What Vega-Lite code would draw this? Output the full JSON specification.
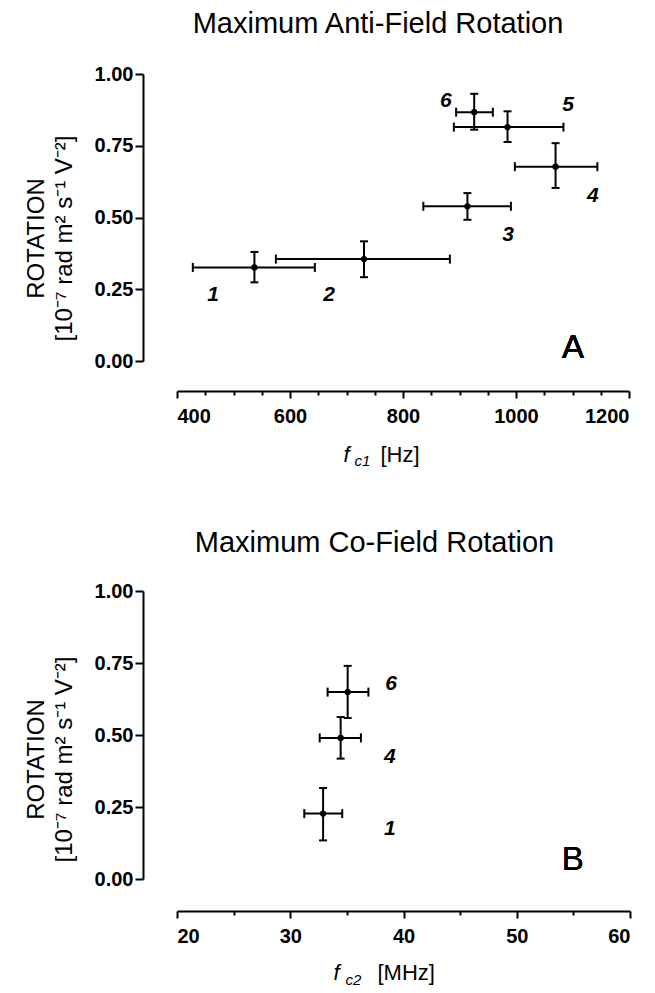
{
  "$schema": "https://vega.github.io/schema/vega-lite/v6.json",
  "padding": {"left": 24, "top": 10, "right": 5, "bottom": 5},
  "config": {
    "view": {"stroke": null},
    "font": "Liberation Sans",
    "axis": {
      "domainColor": "black", "tickColor": "black", "labelColor": "black", "titleColor": "black",
      "domainWidth": 2, "tickWidth": 2, "grid": false,
      "labelFont": "Liberation Sans", "labelFontSize": 20, "labelFontWeight": "bold",
      "titleFont": "Liberation Sans", "titleFontSize": 22, "titleFontWeight": "normal"
    },
    "title": {"font": "Liberation Sans", "fontSize": 29, "fontWeight": "normal", "color": "black"}
  },
  "datasets": {
    "a": [
      {"id": "1", "x": 537, "xlo": 428, "xhi": 644, "y": 0.326, "ylo": 0.274, "yhi": 0.38, "lx": 464, "ly": 0.231},
      {"id": "2", "x": 731, "xlo": 575, "xhi": 883, "y": 0.355, "ylo": 0.292, "yhi": 0.417, "lx": 669, "ly": 0.231},
      {"id": "3", "x": 914, "xlo": 836, "xhi": 991, "y": 0.539, "ylo": 0.492, "yhi": 0.585, "lx": 986, "ly": 0.44},
      {"id": "4", "x": 1070, "xlo": 998, "xhi": 1144, "y": 0.677, "ylo": 0.603, "yhi": 0.759, "lx": 1136, "ly": 0.575},
      {"id": "5", "x": 985, "xlo": 890, "xhi": 1084, "y": 0.815, "ylo": 0.763, "yhi": 0.87, "lx": 1092, "ly": 0.892},
      {"id": "6", "x": 926, "xlo": 894, "xhi": 959, "y": 0.867, "ylo": 0.806, "yhi": 0.931, "lx": 876, "ly": 0.905}
    ],
    "b": [
      {"id": "1", "x": 32.9, "xlo": 31.24, "xhi": 34.59, "y": 0.227, "ylo": 0.134, "yhi": 0.316, "lx": 38.8, "ly": 0.175},
      {"id": "4", "x": 34.45, "xlo": 32.6, "xhi": 36.24, "y": 0.49, "ylo": 0.418, "yhi": 0.5625, "lx": 38.8, "ly": 0.424},
      {"id": "6", "x": 35.07, "xlo": 33.3, "xhi": 36.9, "y": 0.649, "ylo": 0.559, "yhi": 0.74, "lx": 38.9, "ly": 0.678}
    ]
  },
  "spacing": 61,
  "vconcat": [
    {
      "title": {"text": "Maximum Anti-Field Rotation", "anchor": "middle", "offset": 25, "dx": -25},
      "width": 452, "height": 287,
      "data": {"name": "a"},
      "resolve": {"axis": {"x": "independent"}},
      "layer": [
        {
          "mark": {"type": "rule", "strokeWidth": 2, "color": "black"},
          "encoding": {
            "x": {"field": "xlo", "type": "quantitative", "scale": {"domain": [400, 1200], "nice": false, "zero": false},
              "axis": {"orient": "bottom", "offset": 30, "values": [400,450,500,550,600,650,700,750,800,850,900,950,1000,1050,1100,1150,1200],
                "labelExpr": "datum.value % 200 === 0 ? datum.label : ''", "format": "d",
                "tickSize": {"condition": {"test": "datum.value % 200 === 0", "value": 7}, "value": 4},
                "labelPadding": 8, "title": null}},
            "x2": {"field": "xhi"},
            "y": {"field": "y", "type": "quantitative", "scale": {"domain": [0, 1], "nice": false},
              "axis": {"offset": 34, "values": [0, 0.25, 0.5, 0.75, 1], "format": ".2f", "tickSize": 8, "labelPadding": 2,
                "title": ["ROTATION", "[10⁻⁷ rad m² s⁻¹ V⁻²]"], "titleFontSize": 24, "titleLineHeight": 28, "titlePadding": 18, "titleY": 164}}
          }
        },
        {
          "mark": {"type": "rule", "strokeWidth": 2, "color": "black"},
          "encoding": {
            "x": {"field": "x", "type": "quantitative", "scale": {"domain": [400, 1200], "nice": false, "zero": false},
              "axis": {"orient": "bottom", "offset": 30, "domain": false, "ticks": false, "labels": false,
                "title": "f", "titleFontStyle": "italic", "titleX": 166, "titleY": 70, "titleAlign": "left", "titleBaseline": "alphabetic"}},
            "y": {"field": "ylo", "type": "quantitative", "scale": {"domain": [0, 1], "nice": false}},
            "y2": {"field": "yhi"}
          }
        },
        {
          "mark": {"type": "point", "filled": true, "size": 40, "color": "black", "opacity": 1},
          "encoding": {
            "x": {"field": "x", "type": "quantitative", "scale": {"domain": [400, 1200], "nice": false, "zero": false},
              "axis": {"orient": "bottom", "offset": 30, "domain": false, "ticks": false, "labels": false,
                "title": "c1", "titleFontStyle": "italic", "titleFontSize": 15, "titleX": 177, "titleY": 74, "titleAlign": "left", "titleBaseline": "alphabetic"}},
            "y": {"field": "y", "type": "quantitative", "scale": {"domain": [0, 1], "nice": false}}
          }
        },
        {
          "mark": {"type": "text", "fontSize": 21, "fontStyle": "italic", "fontWeight": "bold", "color": "black"},
          "encoding": {
            "x": {"field": "lx", "type": "quantitative", "scale": {"domain": [400, 1200], "nice": false, "zero": false},
              "axis": {"orient": "bottom", "offset": 30, "domain": false, "ticks": false, "labels": false,
                "title": "[Hz]", "titleX": 203, "titleY": 70, "titleAlign": "left", "titleBaseline": "alphabetic"}},
            "y": {"field": "ly", "type": "quantitative", "scale": {"domain": [0, 1], "nice": false}},
            "text": {"field": "id"}
          }
        },
        {
          "mark": {"type": "tick", "orient": "vertical", "size": 9, "thickness": 2, "color": "black", "opacity": 1},
          "encoding": {
            "x": {"field": "xlo", "type": "quantitative", "scale": {"domain": [400, 1200], "nice": false, "zero": false}, "axis": null},
            "y": {"field": "y", "type": "quantitative", "scale": {"domain": [0, 1], "nice": false}}
          }
        },
        {
          "mark": {"type": "tick", "orient": "vertical", "size": 9, "thickness": 2, "color": "black", "opacity": 1},
          "encoding": {
            "x": {"field": "xhi", "type": "quantitative", "scale": {"domain": [400, 1200], "nice": false, "zero": false}, "axis": null},
            "y": {"field": "y", "type": "quantitative", "scale": {"domain": [0, 1], "nice": false}}
          }
        },
        {
          "mark": {"type": "tick", "orient": "horizontal", "size": 8, "thickness": 2, "color": "black", "opacity": 1},
          "encoding": {
            "x": {"field": "x", "type": "quantitative", "scale": {"domain": [400, 1200], "nice": false, "zero": false}, "axis": null},
            "y": {"field": "ylo", "type": "quantitative", "scale": {"domain": [0, 1], "nice": false}}
          }
        },
        {
          "mark": {"type": "tick", "orient": "horizontal", "size": 8, "thickness": 2, "color": "black", "opacity": 1},
          "encoding": {
            "x": {"field": "x", "type": "quantitative", "scale": {"domain": [400, 1200], "nice": false, "zero": false}, "axis": null},
            "y": {"field": "yhi", "type": "quantitative", "scale": {"domain": [0, 1], "nice": false}}
          }
        },
        {
          "mark": {"type": "text", "fontSize": 33, "color": "black"},
          "encoding": {
            "x": {"datum": 1101, "type": "quantitative", "scale": {"domain": [400, 1200], "nice": false, "zero": false}, "axis": null},
            "y": {"datum": 0.045, "type": "quantitative", "scale": {"domain": [0, 1], "nice": false}},
            "text": {"value": "A"}
          }
        }
      ]
    },
    {
      "title": {"text": "Maximum Co-Field Rotation", "anchor": "middle", "offset": 23, "dx": -29},
      "width": 453, "height": 288,
      "data": {"name": "b"},
      "resolve": {"axis": {"x": "independent"}},
      "layer": [
        {
          "mark": {"type": "rule", "strokeWidth": 2, "color": "black"},
          "encoding": {
            "x": {"field": "xlo", "type": "quantitative", "scale": {"domain": [20, 60], "nice": false, "zero": false},
              "axis": {"orient": "bottom", "offset": 32, "values": [20,25,30,35,40,45,50,55,60],
                "labelExpr": "datum.value % 10 === 0 ? datum.label : ''", "format": "d",
                "tickSize": {"condition": {"test": "datum.value % 10 === 0", "value": 7}, "value": 4},
                "labelPadding": 8, "title": null}},
            "x2": {"field": "xhi"},
            "y": {"field": "y", "type": "quantitative", "scale": {"domain": [0, 1], "nice": false},
              "axis": {"offset": 34, "values": [0, 0.25, 0.5, 0.75, 1], "format": ".2f", "tickSize": 8, "labelPadding": 2,
                "title": ["ROTATION", "[10⁻⁷ rad m² s⁻¹ V⁻²]"], "titleFontSize": 24, "titleLineHeight": 28, "titlePadding": 18, "titleY": 168}}
          }
        },
        {
          "mark": {"type": "rule", "strokeWidth": 2, "color": "black"},
          "encoding": {
            "x": {"field": "x", "type": "quantitative", "scale": {"domain": [20, 60], "nice": false, "zero": false},
              "axis": {"orient": "bottom", "offset": 32, "domain": false, "ticks": false, "labels": false,
                "title": "f", "titleFontStyle": "italic", "titleX": 156, "titleY": 68, "titleAlign": "left", "titleBaseline": "alphabetic"}},
            "y": {"field": "ylo", "type": "quantitative", "scale": {"domain": [0, 1], "nice": false}},
            "y2": {"field": "yhi"}
          }
        },
        {
          "mark": {"type": "point", "filled": true, "size": 40, "color": "black", "opacity": 1},
          "encoding": {
            "x": {"field": "x", "type": "quantitative", "scale": {"domain": [20, 60], "nice": false, "zero": false},
              "axis": {"orient": "bottom", "offset": 32, "domain": false, "ticks": false, "labels": false,
                "title": "c2", "titleFontStyle": "italic", "titleFontSize": 15, "titleX": 168, "titleY": 73, "titleAlign": "left", "titleBaseline": "alphabetic"}},
            "y": {"field": "y", "type": "quantitative", "scale": {"domain": [0, 1], "nice": false}}
          }
        },
        {
          "mark": {"type": "text", "fontSize": 21, "fontStyle": "italic", "fontWeight": "bold", "color": "black"},
          "encoding": {
            "x": {"field": "lx", "type": "quantitative", "scale": {"domain": [20, 60], "nice": false, "zero": false},
              "axis": {"orient": "bottom", "offset": 32, "domain": false, "ticks": false, "labels": false,
                "title": "[MHz]", "titleX": 200, "titleY": 68, "titleAlign": "left", "titleBaseline": "alphabetic"}},
            "y": {"field": "ly", "type": "quantitative", "scale": {"domain": [0, 1], "nice": false}},
            "text": {"field": "id"}
          }
        },
        {
          "mark": {"type": "tick", "orient": "vertical", "size": 9, "thickness": 2, "color": "black", "opacity": 1},
          "encoding": {
            "x": {"field": "xlo", "type": "quantitative", "scale": {"domain": [20, 60], "nice": false, "zero": false}, "axis": null},
            "y": {"field": "y", "type": "quantitative", "scale": {"domain": [0, 1], "nice": false}}
          }
        },
        {
          "mark": {"type": "tick", "orient": "vertical", "size": 9, "thickness": 2, "color": "black", "opacity": 1},
          "encoding": {
            "x": {"field": "xhi", "type": "quantitative", "scale": {"domain": [20, 60], "nice": false, "zero": false}, "axis": null},
            "y": {"field": "y", "type": "quantitative", "scale": {"domain": [0, 1], "nice": false}}
          }
        },
        {
          "mark": {"type": "tick", "orient": "horizontal", "size": 8, "thickness": 2, "color": "black", "opacity": 1},
          "encoding": {
            "x": {"field": "x", "type": "quantitative", "scale": {"domain": [20, 60], "nice": false, "zero": false}, "axis": null},
            "y": {"field": "ylo", "type": "quantitative", "scale": {"domain": [0, 1], "nice": false}}
          }
        },
        {
          "mark": {"type": "tick", "orient": "horizontal", "size": 8, "thickness": 2, "color": "black", "opacity": 1},
          "encoding": {
            "x": {"field": "x", "type": "quantitative", "scale": {"domain": [20, 60], "nice": false, "zero": false}, "axis": null},
            "y": {"field": "yhi", "type": "quantitative", "scale": {"domain": [0, 1], "nice": false}}
          }
        },
        {
          "mark": {"type": "text", "fontSize": 33, "color": "black"},
          "encoding": {
            "x": {"datum": 54.95, "type": "quantitative", "scale": {"domain": [20, 60], "nice": false, "zero": false}, "axis": null},
            "y": {"datum": 0.066, "type": "quantitative", "scale": {"domain": [0, 1], "nice": false}},
            "text": {"value": "B"}
          }
        }
      ]
    }
  ]
}
